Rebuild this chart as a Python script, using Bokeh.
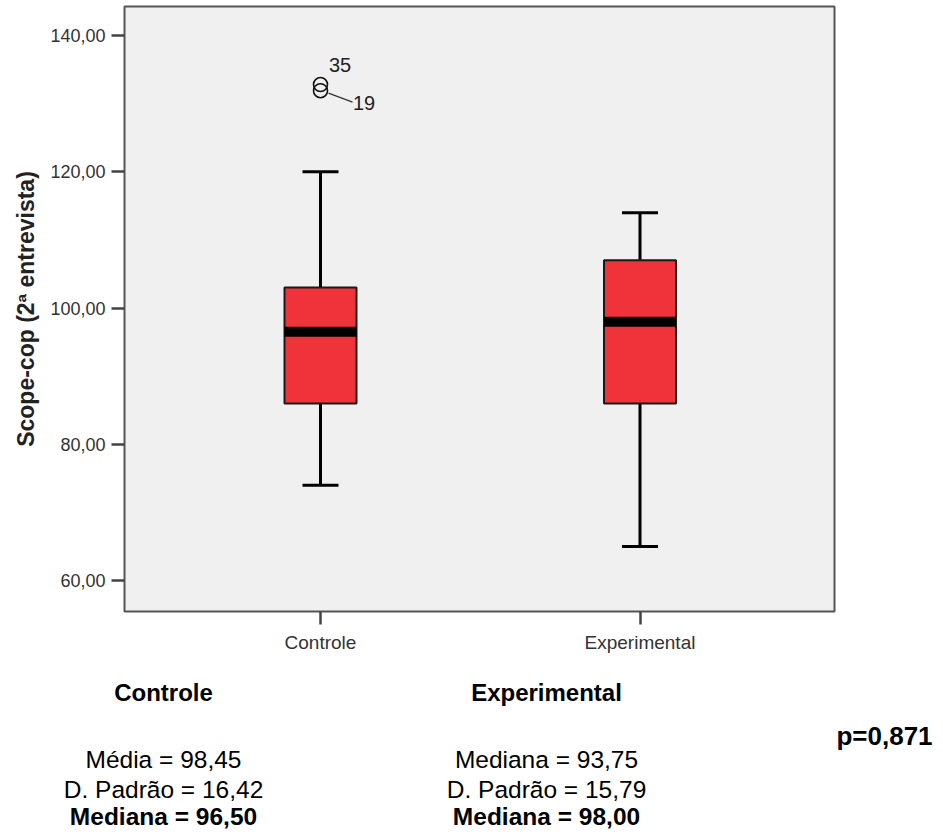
from bokeh.plotting import figure
from bokeh.models import FixedTicker, Range1d, ColumnDataSource
from bokeh.layouts import column
from bokeh.embed import file_html
from bokeh.resources import INLINE
from bokeh.core.properties import value

# ---------------- data ----------------
categories = ["Controle", "Experimental"]
whisker_low = [74, 65]
q1 = [86, 86]
median = [96.5, 98]
q3 = [103, 107]
whisker_high = [120, 114]

outlier_group = [0, 0]          # index into categories
outlier_values = [132.8, 131.9]
outlier_ids = ["35", "19"]

y_ticks = [60, 80, 100, 120, 140]
y_tick_labels = ["60,00", "80,00", "100,00", "120,00", "140,00"]
y_axis_title = "Scope-cop (2ª entrevista)"

summary_headers = ["Controle", "Experimental"]
summary_lines = [
    ["Média = 98,45", "D. Padrão = 16,42", "Mediana = 96,50"],
    ["Mediana = 93,75", "D. Padrão = 15,79", "Mediana = 98,00"],
]
p_value_text = "p=0,871"

# ---------------- geometry / style ----------------
FONT = "Liberation Sans"
PX_X = 319.5      # pixels per x unit
PX_Y = 6.8125     # pixels per y unit
BOX_HALF = 36 / PX_X
CAP_HALF = 18 / PX_X

xs = [i + 1 for i in range(len(categories))]

p = figure(width=935, height=658, output_backend="svg", toolbar_location=None,
           x_range=Range1d(1 - 196 / PX_X, 2 + 194.5 / PX_X),
           y_range=Range1d(140 - (611 - 35) / PX_Y, 140 + (35 - 6) / PX_Y),
           min_border_left=124, min_border_right=101, min_border_top=6, min_border_bottom=47)
p.frame_align = False
p.background_fill_color = "#F0F0F0"
p.border_fill_color = "white"
p.outline_line_color = "#555555"
p.outline_line_width = 2
p.grid.visible = False

src = ColumnDataSource(dict(
    x=xs, lo=whisker_low, q1=q1, med=median, q3=q3, hi=whisker_high,
    xl=[x - BOX_HALF for x in xs], xr=[x + BOX_HALF for x in xs],
    cl=[x - CAP_HALF for x in xs], cr=[x + CAP_HALF for x in xs],
))

# whiskers
p.segment(x0="x", x1="x", y0="q3", y1="hi", source=src, line_color="black", line_width=3)
p.segment(x0="x", x1="x", y0="q1", y1="lo", source=src, line_color="black", line_width=3)
p.segment(x0="cl", x1="cr", y0="hi", y1="hi", source=src, line_color="black", line_width=3)
p.segment(x0="cl", x1="cr", y0="lo", y1="lo", source=src, line_color="black", line_width=3)
# boxes
p.vbar(x="x", width=2 * BOX_HALF, bottom="q1", top="q3", source=src,
       fill_color="#F0323A", line_color="#1a1a1a", line_width=2)
# medians
p.segment(x0="xl", x1="xr", y0="med", y1="med", source=src, line_color="black",
          line_width=10, line_cap="butt")

# outliers
ox = [xs[g] for g in outlier_group]
p.scatter(x=ox, y=outlier_values, marker="circle", size=14, fill_color=None,
          line_color="#111111", line_width=1.6)
p.text(x=[ox[0]], y=[outlier_values[0]], text=[outlier_ids[0]], x_offset=8.5, y_offset=-20,
       text_font=value(FONT), text_font_size="20px", text_color="#222222",
       text_align="left", text_baseline="middle")
p.text(x=[ox[1]], y=[outlier_values[1]], text=[outlier_ids[1]], x_offset=32.5, y_offset=12,
       text_font=value(FONT), text_font_size="20px", text_color="#222222",
       text_align="left", text_baseline="middle")
p.segment(x0=[ox[1] + 8 / PX_X], y0=[outlier_values[1] - 2.5 / PX_Y],
          x1=[ox[1] + 32 / PX_X], y1=[outlier_values[1] - 11.5 / PX_Y],
          line_color="#333333", line_width=1.3)

# axes
p.yaxis.ticker = FixedTicker(ticks=y_ticks)
p.yaxis.major_label_overrides = {t: l for t, l in zip(y_ticks, y_tick_labels)}
p.xaxis.ticker = FixedTicker(ticks=xs)
p.xaxis.major_label_overrides = {x: c for x, c in zip(xs, categories)}
p.yaxis.axis_label = y_axis_title
for ax in (p.xaxis[0], p.yaxis[0]):
    ax.axis_line_color = None
    ax.major_tick_line_color = "#444444"
    ax.major_tick_line_width = 2.5
    ax.major_tick_out = 13
    ax.major_tick_in = 0
    ax.minor_tick_line_color = None
    ax.major_label_text_font = FONT
    ax.major_label_text_color = "#333333"
p.yaxis.major_label_text_font_size = "18px"
p.yaxis.major_label_standoff = 6
p.xaxis.major_label_text_font_size = "19px"
p.xaxis.major_label_standoff = 7
p.yaxis.axis_label_text_font = FONT
p.yaxis.axis_label_text_font_size = "23px"
p.yaxis.axis_label_text_font_style = "bold"
p.yaxis.axis_label_text_color = "#222222"
p.yaxis.axis_label_standoff = 8

# ---------------- summary text panel (frame covers whole canvas: data == page px) ----
PANEL_TOP = 658
q = figure(width=935, height=176, output_backend="svg", toolbar_location=None,
           x_range=Range1d(0, 935), y_range=Range1d(176, 0),
           x_axis_location=None, y_axis_location=None, min_border=0)
q.frame_align = False
q.outline_line_color = None
q.background_fill_color = "white"
q.border_fill_color = "white"
q.grid.visible = False


def add_text(x, y, text, bold=False, size="24.5px"):
    q.text(x=[x], y=[y - PANEL_TOP], text=[text], text_font=value(FONT), text_font_size=size,
           text_font_style="bold" if bold else "normal", text_color="black",
           text_align="center", text_baseline="middle")


col_x = [163, 546]
header_y = 692
row_y = [759, 789, 816]
for ci, head in enumerate(summary_headers):
    add_text(col_x[ci], header_y, head, bold=True, size="24px")
    for ri, line in enumerate(summary_lines[ci]):
        add_text(col_x[ci], row_y[ri], line, bold=(ri == 2))
add_text(884, 735, p_value_text, bold=True, size="26px")

layout = column(p, q, spacing=0)
open("out.html", "w").write(file_html(layout, INLINE))
